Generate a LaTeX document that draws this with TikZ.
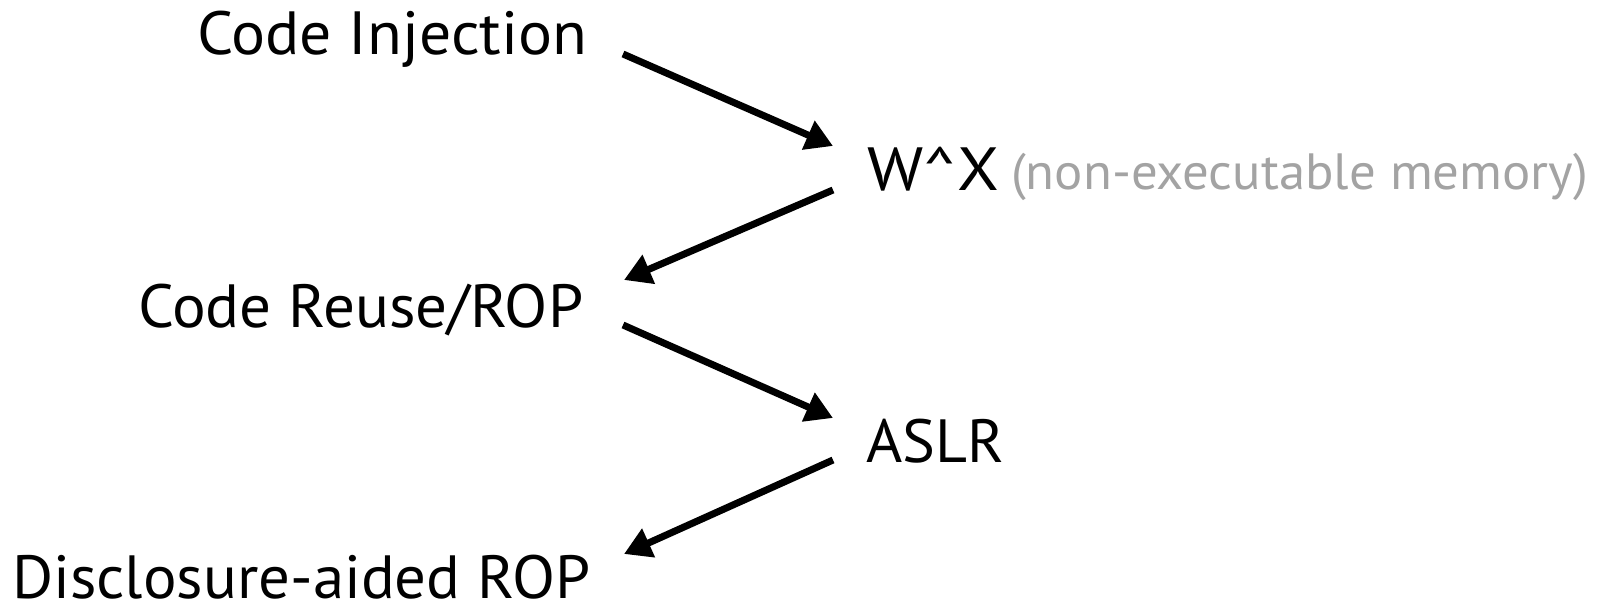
\documentclass[tikz,border=0pt]{standalone}
\usepackage{graphicx}
\usepackage{fontspec}
\setmainfont{PT Sans}
\usetikzlibrary{arrows.meta}
\definecolor{notegray}{HTML}{A3A3A3}
% set a label to a given width, keeping its natural height
\newcommand\fitwidth[2]{\resizebox{#1}{\height}{#2}}
\begin{document}
\begin{tikzpicture}[x=1pt,y=-1pt,
  lbl/.style={inner sep=0pt, font=\fontsize{61}{64}\selectfont, text=black},
  note/.style={inner sep=0pt, font=\fontsize{51}{54}\selectfont, text=notegray},
  flow/.style={line width=7pt, -{Triangle[length=27pt,width=30pt]}}]
  \useasboundingbox (0,0) rectangle (1608,604);
  % attacks on the left, defences on the right
  \node[lbl, anchor=base west] (ci)   at (197,55)  {\fitwidth{390pt}{Code Injection}};
  \node[lbl, anchor=base west] (wx)   at (867,190) {\fitwidth{132pt}{W\^{}X}};
  \node[note, anchor=base west] (nx)  at (1011,190) {\fitwidth{577pt}{(non-executable memory)}};
  \node[lbl, anchor=base west] (rop)  at (138,327) {\fitwidth{445pt}{Code Reuse/ROP}};
  \node[lbl, anchor=base west] (aslr) at (866,462) {\fitwidth{138pt}{ASLR}};
  \node[lbl, anchor=base west] (dis)  at (12,598)  {\fitwidth{578pt}{Disclosure-aided ROP}};
  % arrow end points
  \coordinate (a1s) at (623,54);  \coordinate (a1e) at (833,146);
  \coordinate (a2s) at (833,190); \coordinate (a2e) at (624,280);
  \coordinate (a3s) at (623,325); \coordinate (a3e) at (833,418);
  \coordinate (a4s) at (833,460); \coordinate (a4e) at (624,554);
  \draw[flow] (a1s) -- (a1e);
  \draw[flow] (a2s) -- (a2e);
  \draw[flow] (a3s) -- (a3e);
  \draw[flow] (a4s) -- (a4e);
\end{tikzpicture}
\end{document}
